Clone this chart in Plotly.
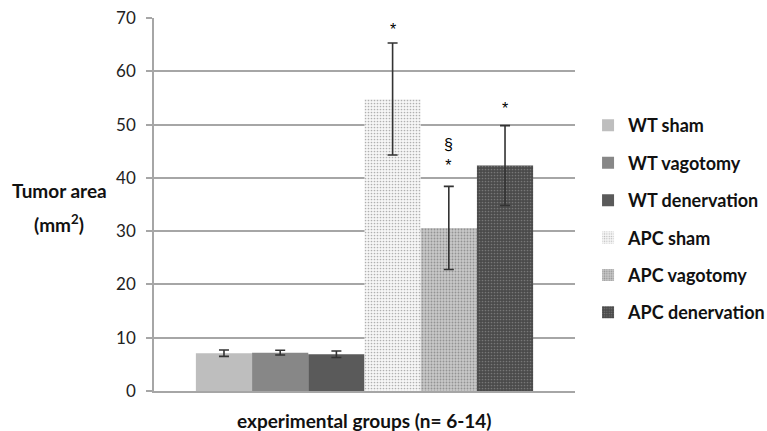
import plotly.graph_objects as go

groups = ["WT sham", "WT vagotomy", "WT denervation", "APC sham", "APC vagotomy", "APC denervation"]
values = [7.1, 7.2, 6.9, 54.8, 30.6, 42.3]
errors = [0.6, 0.45, 0.6, 10.5, 7.8, 7.5]
marks = ["", "", "", "*", "§<br>*", "*"]
mark_y = [None, None, None, 65.8, 40.3, 51.0]

fills = [
    dict(color="#BEBEBE"),
    dict(color="#878787"),
    dict(color="#5A5A5A"),
    dict(color="#FFFFFF", pattern=dict(shape=".", fgcolor="#6A6A6A", bgcolor="#F6F6F6", size=3, solidity=0.25)),
    dict(color="#FFFFFF", pattern=dict(shape=".", fgcolor="#5E5E5E", bgcolor="#C8C8C8", size=3, solidity=0.3)),
    dict(color="#FFFFFF", pattern=dict(shape=".", fgcolor="#A4A4A4", bgcolor="#4A4A4A", size=3, solidity=0.25)),
]

FONT = "Lato"
fig = go.Figure()
for i, g in enumerate(groups):
    fig.add_trace(go.Bar(
        x=[i], y=[values[i]], width=1, name=g, legendgroup=g,
        marker=dict(line=dict(width=0), **fills[i]),
        error_y=dict(type="data", array=[errors[i]], color="#333333", thickness=1.6, width=5),
    ))

for i, m in enumerate(marks):
    if m:
        fig.add_annotation(x=i, y=mark_y[i], text=m, showarrow=False,
                           font=dict(family="Liberation Sans", size=16, color="#000000"),
                           yanchor="bottom", xanchor="center")

fig.add_annotation(xref="paper", yref="paper", x=-0.225, y=0.538, text="<b>Tumor area</b>",
                   xanchor="center", yanchor="middle",
                   showarrow=False, font=dict(family=FONT, size=19, color="#111111"))
fig.add_annotation(xref="paper", yref="paper", x=-0.225, y=0.449, text="<b>(mm<sup>2</sup>)</b>",
                   xanchor="center", yanchor="middle",
                   showarrow=False, font=dict(family=FONT, size=19, color="#111111"))
fig.add_annotation(xref="paper", yref="paper", x=0.5, y=-0.078, text="<b>experimental groups (n= 6-14)</b>",
                   xanchor="center", yanchor="middle",
                   showarrow=False, font=dict(family=FONT, size=19, color="#111111"))

fig.update_layout(
    width=767, height=431,
    margin=dict(l=154, r=192, t=18, b=40, autoexpand=False),
    paper_bgcolor="white", plot_bgcolor="white",
    barmode="overlay",
    showlegend=True,
    legend=dict(x=1.031, y=0.761, xanchor="left", yanchor="top", tracegroupgap=11,
                font=dict(family=FONT, size=18, color="#111111", weight="bold"), itemwidth=30),
    xaxis=dict(range=[-1.245, 6.245], showticklabels=False, showgrid=False, zeroline=False,
               showline=True, linecolor="#A6A6A6", linewidth=1.5, ticks=""),
    yaxis=dict(range=[0, 70], dtick=10, showgrid=True, gridcolor="#A6A6A6", gridwidth=1.5,
               zeroline=False, showline=True, linecolor="#A6A6A6", linewidth=1.5,
               ticks="outside", ticklen=6, tickcolor="#A6A6A6", tickwidth=1.5,
               ticklabelstandoff=7,
               tickfont=dict(family=FONT, size=17, color="#222222")),
)
fig.write_html("out.html", config={"displayModeBar": False},
               post_script="document.body.style.margin='0px';")
